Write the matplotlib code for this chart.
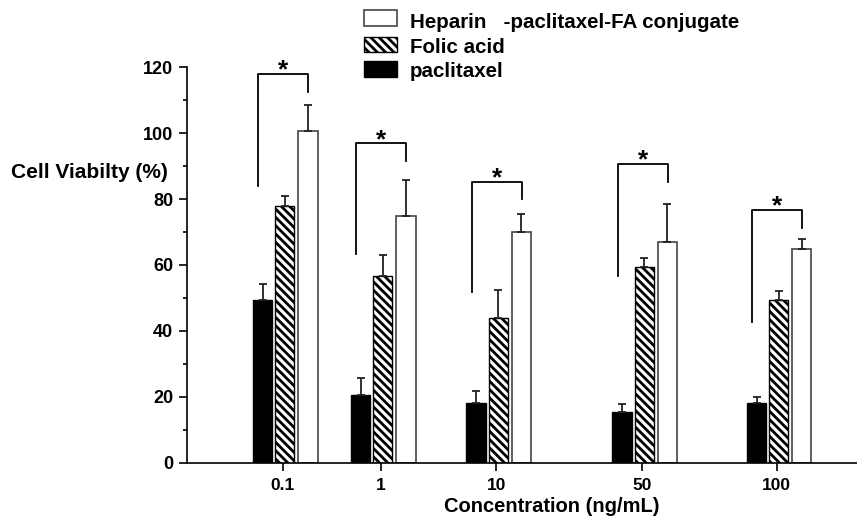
import matplotlib
matplotlib.use('Agg')
import matplotlib.pyplot as plt
from matplotlib.patches import Rectangle
import numpy as np

plt.rcParams['font.family'] = ['Liberation Sans', 'DejaVu Sans']
plt.rcParams['font.weight'] = 'bold'
plt.rcParams['hatch.linewidth'] = 2.0

# data
conc_labels = ['0.1', '1', '10', '50', '100']
paclitaxel = [49.2, 20.6, 18.2, 15.4, 18.1]
paclitaxel_err = [4.9, 5.1, 3.6, 2.4, 1.7]
folic_acid = [77.8, 56.7, 44.0, 59.5, 49.2]
folic_acid_err = [3.1, 6.3, 8.4, 2.6, 3.0]
conjugate = [100.8, 75.0, 70.1, 67.1, 64.7]
conjugate_err = [7.9, 10.8, 5.3, 11.5, 3.3]

# significance brackets (top, left foot, right foot)
bracket_top = [117.9, 96.9, 85.3, 90.6, 76.8]
bracket_left = [83.9, 63.2, 51.7, 56.6, 42.8]
bracket_right = [112.4, 91.7, 80.1, 85.2, 71.2]

W, H = 857, 518

# group centres as spaced in the original figure
xpos = np.array([0, 1, 2.18, 3.67, 5.04])
width = 0.2

fig = plt.figure(figsize=(W / 100, H / 100), dpi=100)
ax = fig.add_axes([186.7 / W, 1 - 462.5 / H, 1 - 186.7 / W, (462.5 - 67.3) / H])

err_kw = dict(ecolor='#222222', elinewidth=1.3, capsize=2.7, capthick=1.3)
zeros = np.zeros(len(conc_labels))

styles = {
    'paclitaxel': dict(color='black', edgecolor='black', linewidth=1),
    'Folic acid': dict(color='white', edgecolor='black', hatch='\\\\\\\\', linewidth=1),
    'Heparin   -paclitaxel-FA conjugate': dict(color='white', edgecolor='#444444',
                                               linewidth=1.2),
}

ax.bar(xpos - 0.205, paclitaxel, width, yerr=[zeros, paclitaxel_err],
       error_kw=err_kw, **styles['paclitaxel'])
ax.bar(xpos + 0.02, folic_acid, width, yerr=[zeros, folic_acid_err],
       error_kw=err_kw, **styles['Folic acid'])
ax.bar(xpos + 0.255, conjugate, width, yerr=[zeros, conjugate_err],
       error_kw=err_kw, **styles['Heparin   -paclitaxel-FA conjugate'])

# brackets with stars
for x, top, lft, rgt in zip(xpos, bracket_top, bracket_left, bracket_right):
    xl, xr = x - 0.25, x + 0.26
    ax.plot([xl, xl, xr, xr], [lft, top, top, rgt], color='black', lw=1.3,
            clip_on=False)
    ax.annotate('*', xy=((xl + xr) / 2, top), xytext=(0, -2.5),
                textcoords='offset points', ha='center', va='baseline',
                fontsize=19, fontweight='bold', annotation_clip=False)

ax.set_xlim(-0.98, 5.86)
ax.set_ylim(0, 120)
ax.set_xticks(xpos)
ax.set_xticklabels(conc_labels)
ax.set_yticks(np.arange(0, 121, 20))
ax.set_yticks(np.arange(0, 121, 10), minor=True)
ax.tick_params(axis='y', which='major', labelsize=13, width=1.2, length=5.8, pad=4)
ax.tick_params(axis='y', which='minor', width=1.2, length=2.9)
ax.tick_params(axis='x', which='major', labelsize=12.5, width=1.2, length=6, pad=5)
for lab in ax.get_xticklabels() + ax.get_yticklabels():
    lab.set_fontweight('bold')

for side in ['top', 'right']:
    ax.spines[side].set_visible(False)
for side in ['left', 'bottom']:
    ax.spines[side].set_linewidth(1.2)

fig.text(551.5 / W, 1 - 512 / H, 'Concentration (ng/mL)', fontsize=14.5,
         fontweight='bold', ha='center', va='baseline')
fig.text(11 / W, 1 - 178.3 / H, 'Cell Viabilty (%)', fontsize=15,
         fontweight='bold', ha='left', va='baseline')

# legend drawn by hand to follow the original spacing
legend_order = ['Heparin   -paclitaxel-FA conjugate', 'Folic acid', 'paclitaxel']
box_tops = [10.5, 37, 61.5]
baselines = [28.3, 53.3, 77]
for name, btop, base in zip(legend_order, box_tops, baselines):
    st = dict(styles[name])
    face = st.pop('color')
    fig.add_artist(Rectangle((363.5 / W, 1 - (btop + 15) / H), 33.5 / W, 15 / H,
                             transform=fig.transFigure, facecolor=face, **st))
    fig.text(410 / W, 1 - base / H, name, fontsize=14.8, fontweight='bold',
             ha='left', va='baseline')

fig.savefig('out.png', dpi=100)
